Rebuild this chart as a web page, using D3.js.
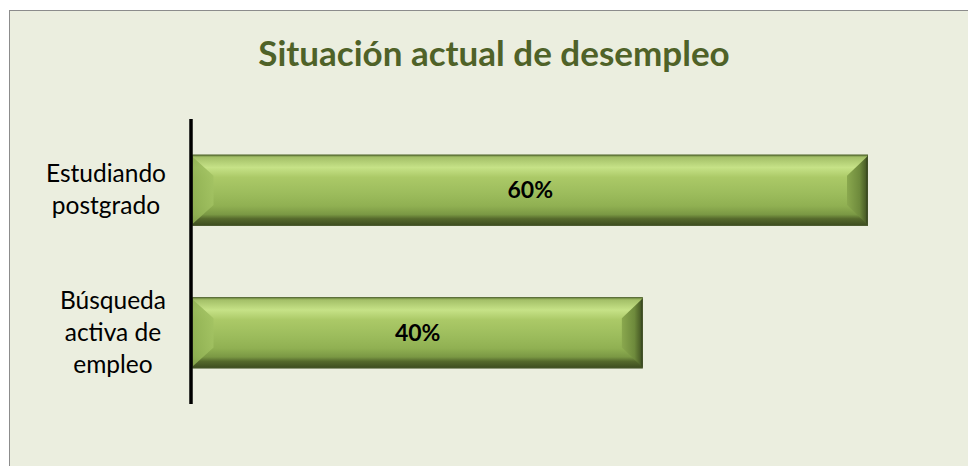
<!DOCTYPE html>
<html>
<head>
<meta charset="utf-8">
<script src="https://cdn.jsdelivr.net/npm/d3@7"></script>
<style>
  body { margin: 0; background: #ffffff; }
  svg { display: block; }
</style>
</head>
<body>
<div id="chart"></div>
<script>
// Data (top to bottom as drawn)
const categories = ["Estudiando postgrado", "Búsqueda activa de empleo"];
const categoryLines = [["Estudiando", "postgrado"], ["Búsqueda", "activa de", "empleo"]];
const values = [0.60, 0.40];
const title = "Situación actual de desempleo";

const width = 968, height = 466;
const fontFam = "Lato, 'Open Sans', sans-serif";

const svg = d3.select("#chart").append("svg")
    .attr("width", width)
    .attr("height", height);

// chart area background + border
svg.append("rect")
    .attr("x", 9.5).attr("y", 10.5)
    .attr("width", width).attr("height", height)
    .attr("fill", "#ebeedf")
    .attr("stroke", "#8c8c8c")
    .attr("stroke-width", 1);

// title
svg.append("text")
    .attr("x", 494).attr("y", 66)
    .attr("text-anchor", "middle")
    .style("font-family", fontFam)
    .style("font-weight", "bold")
    .style("font-size", "35px")
    .attr("fill", "#4f6228")
    .text(title);

// scales
const axisX = 191;
const x = d3.scaleLinear().domain([0, 0.6]).range([axisX + 1.5, 868]);
const y = d3.scaleBand().domain(categories).range([119, 404])
    .paddingInner(0.5).paddingOuter(0.25);

// gradients
const defs = svg.append("defs");
const vGrad = defs.append("linearGradient").attr("id", "barV")
    .attr("x1", 0).attr("y1", 0).attr("x2", 0).attr("y2", 1);
[
  [0, "#66803a"], [0.04, "#a4c068"], [0.18, "#c6e287"], [0.32, "#abc967"],
  [0.55, "#9cbc5c"], [0.72, "#90b052"], [0.84, "#7a9844"], [0.9, "#55692c"],
  [1, "#3c4b1f"]
].forEach(s => vGrad.append("stop").attr("offset", s[0]).attr("stop-color", s[1]));

const lGrad = defs.append("linearGradient").attr("id", "barL")
    .attr("x1", 0).attr("y1", 0).attr("x2", 1).attr("y2", 0);
[[0, "#8fb052"], [1, "#a2c262"]]
  .forEach(s => lGrad.append("stop").attr("offset", s[0]).attr("stop-color", s[1]));

const rGrad = defs.append("linearGradient").attr("id", "barR")
    .attr("x1", 0).attr("y1", 0).attr("x2", 1).attr("y2", 0);
[[0, "#8aa84e"], [0.6, "#6e8a3c"], [0.88, "#4c6028"], [1, "#27321a"]]
  .forEach(s => rGrad.append("stop").attr("offset", s[0]).attr("stop-color", s[1]));

const bevel = 21;
const rows = categories.map((c, i) => ({ cat: c, lines: categoryLines[i], value: values[i] }));

const bars = svg.selectAll(".bar").data(rows).enter().append("g").attr("class", "bar");

bars.append("rect")
    .attr("x", x(0))
    .attr("y", d => y(d.cat))
    .attr("width", d => x(d.value) - x(0))
    .attr("height", y.bandwidth())
    .attr("fill", "url(#barV)");

// left bevel
bars.append("path")
    .attr("fill", "url(#barL)")
    .attr("opacity", 0.85)
    .attr("d", d => {
      const x0 = x(0), y0 = y(d.cat), y1 = y0 + y.bandwidth();
      return `M${x0},${y0 + 2}L${x0 + bevel},${y0 + bevel}L${x0 + bevel},${y1 - bevel}L${x0},${y1 - 2}Z`;
    });

// right bevel
bars.append("path")
    .attr("fill", "url(#barR)")
    .attr("d", d => {
      const x1 = x(d.value), y0 = y(d.cat), y1 = y0 + y.bandwidth();
      return `M${x1},${y0 + 1}L${x1 - bevel},${y0 + bevel}L${x1 - bevel},${y1 - bevel}L${x1},${y1 - 1}Z`;
    });

// outline
bars.append("rect")
    .attr("x", x(0))
    .attr("y", d => y(d.cat) + 0.5)
    .attr("width", d => x(d.value) - x(0) - 0.5)
    .attr("height", y.bandwidth() - 1)
    .attr("fill", "none")
    .attr("stroke", "#4a5a2c")
    .attr("stroke-opacity", 0.7)
    .attr("stroke-width", 1);

// value labels
bars.append("text")
    .attr("x", d => (x(0) + x(d.value)) / 2)
    .attr("y", d => y(d.cat) + y.bandwidth() / 2 + 8)
    .attr("text-anchor", "middle")
    .style("font-family", fontFam)
    .style("font-weight", "bold")
    .style("font-size", "23px")
    .attr("fill", "#000")
    .text(d => d3.format(".0%")(d.value));

// vertical axis line
svg.append("line")
    .attr("x1", axisX).attr("x2", axisX)
    .attr("y1", y.range()[0]).attr("y2", y.range()[1])
    .attr("stroke", "#000")
    .attr("stroke-width", 3.5);

// category labels: block right-aligned, lines centred within block
const lineH = 32;
const labelRight = 166;
const catG = svg.selectAll(".cat").data(rows).enter().append("g").attr("class", "cat");
catG.each(function(d) {
  const g = d3.select(this);
  const cy = y(d.cat) + y.bandwidth() / 2;
  const texts = d.lines.map((ln, i) => g.append("text")
      .attr("y", cy + (i - (d.lines.length - 1) / 2) * lineH + 8)
      .attr("text-anchor", "middle")
      .style("font-family", fontFam)
      .style("font-size", "24.5px")
      .attr("fill", "#000")
      .text(ln));
  const maxW = d3.max(texts, t => t.node().getComputedTextLength());
  texts.forEach(t => t.attr("x", labelRight - maxW / 2));
});
</script>
</body>
</html>
